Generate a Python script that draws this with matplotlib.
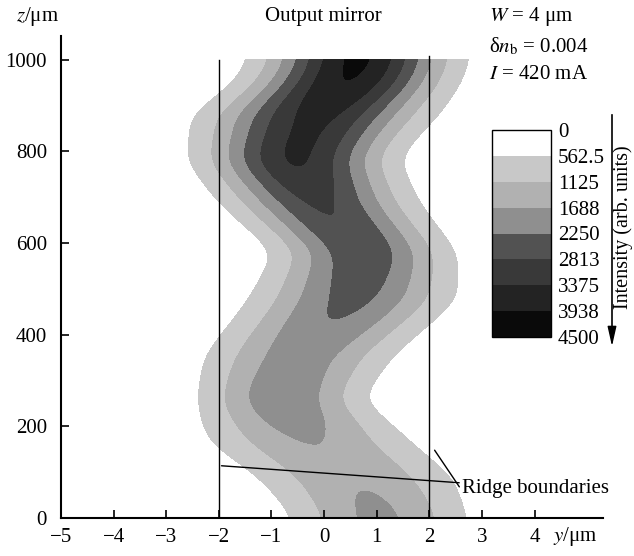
import numpy as np
import matplotlib.pyplot as plt

plt.rcParams['font.family'] = ['Liberation Serif', 'DejaVu Serif']
plt.rcParams['mathtext.fontset'] = 'stix'
plt.rcParams['font.size'] = 15

# Beam: centre position, peak intensity and width at some z
z_knots = [0, 17, 90, 163, 258, 352, 476, 579, 688, 782, 830, 876, 950, 1000]
centre = [1.05, 1.0, 0.6, -0.25, -0.85, -0.5, 0.55, 0.8, -0.1, -0.6, -0.4, -0.2, 0.45, 0.66]
peak = [1800, 1800, 1600, 1650, 2150, 1950, 2400, 2650, 2850, 3500, 3450, 3500, 3950, 4050]
width = [1.55, 1.55, 1.8, 1.85, 1.35, 1.6, 1.65, 1.4, 1.5, 1.5, 1.6, 1.75, 1.55, 1.5]

levels = [0, 562.5, 1125, 1688, 2250, 2813, 3375, 3938, 4500]
level_labels = ['0', '562.5', '1125', '1688', '2250', '2813', '3375', '3938', '4500']
band_colors = ['#ffffff', '#c8c8c8', '#b1b1b1', '#8f8f8f', '#525252', '#393939', '#232323', '#0a0a0a']

x_ticks = [-5, -4, -3, -2, -1, 0, 1, 2, 3, 4]
z_ticks = [0, 200, 400, 600, 800, 1000]
ridge = [-2, 2]


def smooth(v, sigma=12):
    k = np.exp(-0.5 * (np.arange(-3 * sigma, 3 * sigma + 1) / sigma) ** 2)
    k /= k.sum()
    vp = np.pad(v, 3 * sigma, mode='edge')
    return np.convolve(vp, k, mode='valid')


# build the intensity map
z = np.linspace(0, 1000, 501)
x = np.linspace(-4.5, 4.5, 451)
c = smooth(np.interp(z, z_knots, centre))
p = smooth(np.interp(z, z_knots, peak))
s = smooth(np.interp(z, z_knots, width))
X, Z = np.meshgrid(x, z)
field = p[:, None] * np.exp(-((X - c[:, None]) / s[:, None]) ** 2)

fig = plt.figure(figsize=(6.34, 5.56), dpi=100)
ax = fig.add_axes([61 / 634, 1 - 518 / 556, 542 / 634, 482 / 556])

cf = ax.contourf(X, Z, field, levels=levels, colors=band_colors)

# ridge boundaries
ax.plot([ridge[0], ridge[0]], [0, 1000], color='black', lw=1)
ax.plot([ridge[1], ridge[1]], [0, 1008], color='black', lw=1)
ax.annotate('Ridge boundaries', xy=(-1.95, 114), xytext=(2.62, 65), va='center', ha='left',
            arrowprops=dict(arrowstyle='-', color='black', lw=1, shrinkA=0, shrinkB=0))
ax.annotate('', xy=(2.10, 148), xytext=(2.57, 68),
            arrowprops=dict(arrowstyle='-', color='black', lw=1, shrinkA=0, shrinkB=0))

ax.set_xlim(-5, 5.3)
ax.set_ylim(0, 1052)
ax.set_xticks(x_ticks)
ax.set_xticklabels(['\u2212' + str(-t) if t < 0 else str(t) for t in x_ticks])
ax.set_yticks(z_ticks)
ax.spines['top'].set_visible(False)
ax.spines['right'].set_visible(False)
for sp in ['left', 'bottom']:
    ax.spines[sp].set_linewidth(1.5)
ax.tick_params(axis='both', direction='in', length=6, width=1.2)
ax.tick_params(axis='x', pad=7)
ax.tick_params(axis='y', pad=10)

ax.text(4.35, -0.039, r'$y$/μm', transform=ax.get_xaxis_transform(), va='center', ha='left')
fig.text(38 / 634, 1 - 17 / 556, r'$z$/μm', ha='center', va='center')
fig.text(323 / 634, 1 - 17 / 556, 'Output mirror', ha='center', va='center')
fig.text(489 / 634, 1 - 17 / 556, r'$W$ = 4 μm', ha='left', va='center')
fig.text(489 / 634, 1 - 46 / 556, r'δ$n_\mathrm{b}$ = 0.004', ha='left', va='center')
fig.text(489 / 634, 1 - 74 / 556, r'$I$ = 420 mA', ha='left', va='center')

# colour bar, 0 on top
cax = fig.add_axes([492 / 634, 1 - 337 / 556, 59 / 634, 207 / 556])
cb = fig.colorbar(cf, cax=cax)
cax.invert_yaxis()
cb.set_ticks(levels)
cb.set_ticklabels(level_labels)
cb.outline.set_linewidth(1)
cax.tick_params(length=0, pad=5)

fig.add_artist(plt.Line2D([612 / 634, 612 / 634], [1 - 115 / 556, 1 - 340 / 556], color='black', lw=1.2))
fig.patches.append(plt.matplotlib.patches.FancyArrowPatch(
    (612 / 634, 1 - 332 / 556), (612 / 634, 1 - 349 / 556), transform=fig.transFigure,
    arrowstyle='-|>,head_length=0.8,head_width=0.18', mutation_scale=15, color='black', lw=1))
fig.text(623 / 634, 1 - 227 / 556, 'Intensity (arb. units)', rotation=90, ha='center', va='center',
         fontsize=14.5)

plt.savefig('out.png', dpi=100)
